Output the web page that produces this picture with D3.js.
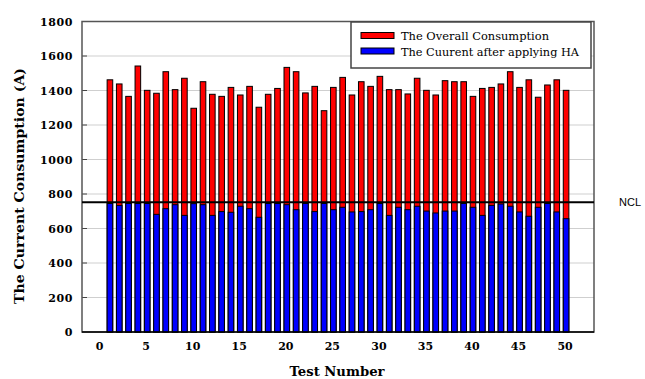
<!DOCTYPE html>
<html>
<head>
<meta charset="utf-8">
<script src="https://cdn.jsdelivr.net/npm/d3@7"></script>
<style>
  html, body { margin: 0; padding: 0; background: #fff; }
  svg { display: block; }
</style>
</head>
<body>
<svg id="chart" width="645" height="379"></svg>
<script>
// Test numbers 1..50
const tests = d3.range(1, 51);

// Overall current consumption per test (A)
const overall = [
  1462, 1438, 1366, 1542, 1401, 1384, 1509, 1405, 1471, 1297,
  1451, 1378, 1366, 1418, 1374, 1424, 1303, 1378, 1412, 1534,
  1509, 1386, 1424, 1283, 1418, 1476, 1374, 1451, 1424, 1482,
  1405, 1405, 1380, 1471, 1401, 1374, 1457, 1451, 1451, 1366,
  1412, 1418, 1438, 1509, 1418, 1462, 1361, 1432, 1462, 1401
];

// Current after applying HA per test (A)
const afterHA = [
  745, 734, 745, 745, 745, 682, 715, 738, 676, 744,
  738, 676, 698, 694, 729, 715, 665, 745, 745, 738,
  709, 745, 698, 745, 709, 723, 696, 698, 709, 745,
  676, 723, 709, 729, 701, 690, 701, 701, 745, 723,
  676, 734, 742, 729, 696, 671, 723, 745, 696, 657
];

// Nominal current limit
const ncl = 752;

const yTicks = [0, 200, 400, 600, 800, 1000, 1200, 1400, 1600, 1800];
const xTicks = [0, 5, 10, 15, 20, 25, 30, 35, 40, 45, 50];

const seriesNames = ["The Overall Consumption", "The Cuurent after applying HA"];
const seriesColors = ["#ff0000", "#0000ff"];

const SERIF = "'DejaVu Serif', serif";
const SANS = "'Liberation Sans', sans-serif";

const plot = { left: 82, right: 594, top: 21.5, bottom: 332 };

const svg = d3.select("#chart");

const x = d3.scaleLinear().domain([-2, 53]).range([plot.left, plot.right]);
const y = d3.scaleLinear().domain([0, 1800]).range([plot.bottom, plot.top]);

const barW = 5.6;

// grid lines
svg.append("g")
  .selectAll("line")
  .data(yTicks.filter(d => d > 0 && d < 1800))
  .join("line")
  .attr("x1", plot.left).attr("x2", plot.right)
  .attr("y1", d => y(d)).attr("y2", d => y(d))
  .attr("stroke", "#cfcfcf").attr("stroke-width", 1);

// short inward tick marks on the left axis
svg.append("g")
  .selectAll("line")
  .data(yTicks.filter(d => d > 0 && d < 1800))
  .join("line")
  .attr("x1", plot.left).attr("x2", plot.left + 5)
  .attr("y1", d => y(d)).attr("y2", d => y(d))
  .attr("stroke", "#444").attr("stroke-width", 1);

// plot frame
svg.append("rect")
  .attr("x", plot.left).attr("y", plot.top)
  .attr("width", plot.right - plot.left).attr("height", plot.bottom - plot.top)
  .attr("fill", "none").attr("stroke", "#555").attr("stroke-width", 1.5);

const bars = svg.append("g");

// overall consumption (full height, red)
bars.selectAll("rect.overall")
  .data(tests)
  .join("rect")
  .attr("class", "overall")
  .attr("x", (d, i) => x(d) - barW / 2)
  .attr("y", (d, i) => y(overall[i]))
  .attr("width", barW)
  .attr("height", (d, i) => y(0) - y(overall[i]))
  .attr("fill", seriesColors[0])
  .attr("stroke", "#000").attr("stroke-width", 1);

// current after HA (blue, on top)
bars.selectAll("rect.after")
  .data(tests)
  .join("rect")
  .attr("class", "after")
  .attr("x", (d, i) => x(d) - barW / 2)
  .attr("y", (d, i) => y(afterHA[i]))
  .attr("width", barW)
  .attr("height", (d, i) => y(0) - y(afterHA[i]))
  .attr("fill", seriesColors[1])
  .attr("stroke", "#000").attr("stroke-width", 1);

// bottom axis line
svg.append("line")
  .attr("x1", plot.left).attr("x2", plot.right)
  .attr("y1", plot.bottom).attr("y2", plot.bottom)
  .attr("stroke", "#000").attr("stroke-width", 1.5);

// NCL reference line
svg.append("line")
  .attr("x1", plot.left).attr("x2", plot.right)
  .attr("y1", y(ncl)).attr("y2", y(ncl))
  .attr("stroke", "#000").attr("stroke-width", 2);

svg.append("text")
  .style("font-family", SANS)
  .attr("x", 619).attr("y", y(ncl) + 4)
  .attr("font-size", 11)
  .attr("fill", "#000")
  .text("NCL");

// y tick labels
svg.append("g")
  .selectAll("text")
  .data(yTicks)
  .join("text")
  .style("font-family", SERIF)
  .attr("x", 73)
  .attr("y", d => y(d) + 4)
  .attr("text-anchor", "end")
  .attr("font-weight", "bold")
  .attr("font-size", 11)
  .attr("letter-spacing", 0.6)
  .text(d => d);

// x tick labels
svg.append("g")
  .selectAll("text")
  .data(xTicks)
  .join("text")
  .style("font-family", SERIF)
  .attr("x", d => x(d) - 1)
  .attr("y", 350)
  .attr("text-anchor", "middle")
  .attr("font-weight", "bold")
  .attr("font-size", 11)
  .text(d => d);

// axis titles
svg.append("text")
  .style("font-family", SERIF)
  .attr("x", 337).attr("y", 376)
  .attr("text-anchor", "middle")
  .attr("font-weight", "bold")
  .attr("font-size", 13)
  .attr("textLength", 95)
  .attr("lengthAdjust", "spacingAndGlyphs")
  .text("Test Number");

svg.append("text")
  .style("font-family", SERIF)
  .attr("transform", "translate(24,186) rotate(-90)")
  .attr("text-anchor", "middle")
  .attr("font-weight", "bold")
  .attr("font-size", 12.5)
  .attr("textLength", 236)
  .attr("lengthAdjust", "spacingAndGlyphs")
  .text("The Current Consumption (A)");

// legend
const legend = svg.append("g");
legend.append("rect")
  .attr("x", 351).attr("y", 22)
  .attr("width", 240).attr("height", 46)
  .attr("fill", "#fff").attr("stroke", "#444").attr("stroke-width", 1.5);

const legendRows = legend.selectAll("g.row")
  .data(seriesNames)
  .join("g")
  .attr("class", "row")
  .attr("transform", (d, i) => `translate(0,${i * 15.5})`);

legendRows.append("rect")
  .attr("x", 361).attr("y", 32.5)
  .attr("width", 33).attr("height", 6)
  .attr("fill", (d, i) => seriesColors[i])
  .attr("stroke", "#000").attr("stroke-width", 1);

legendRows.append("text")
  .style("font-family", SERIF)
  .attr("x", 401).attr("y", 40)
  .attr("font-size", 11.5)
  .attr("textLength", (d, i) => i === 0 ? 148 : 178)
  .attr("lengthAdjust", "spacingAndGlyphs")
  .text(d => d);
</script>
</body>
</html>
